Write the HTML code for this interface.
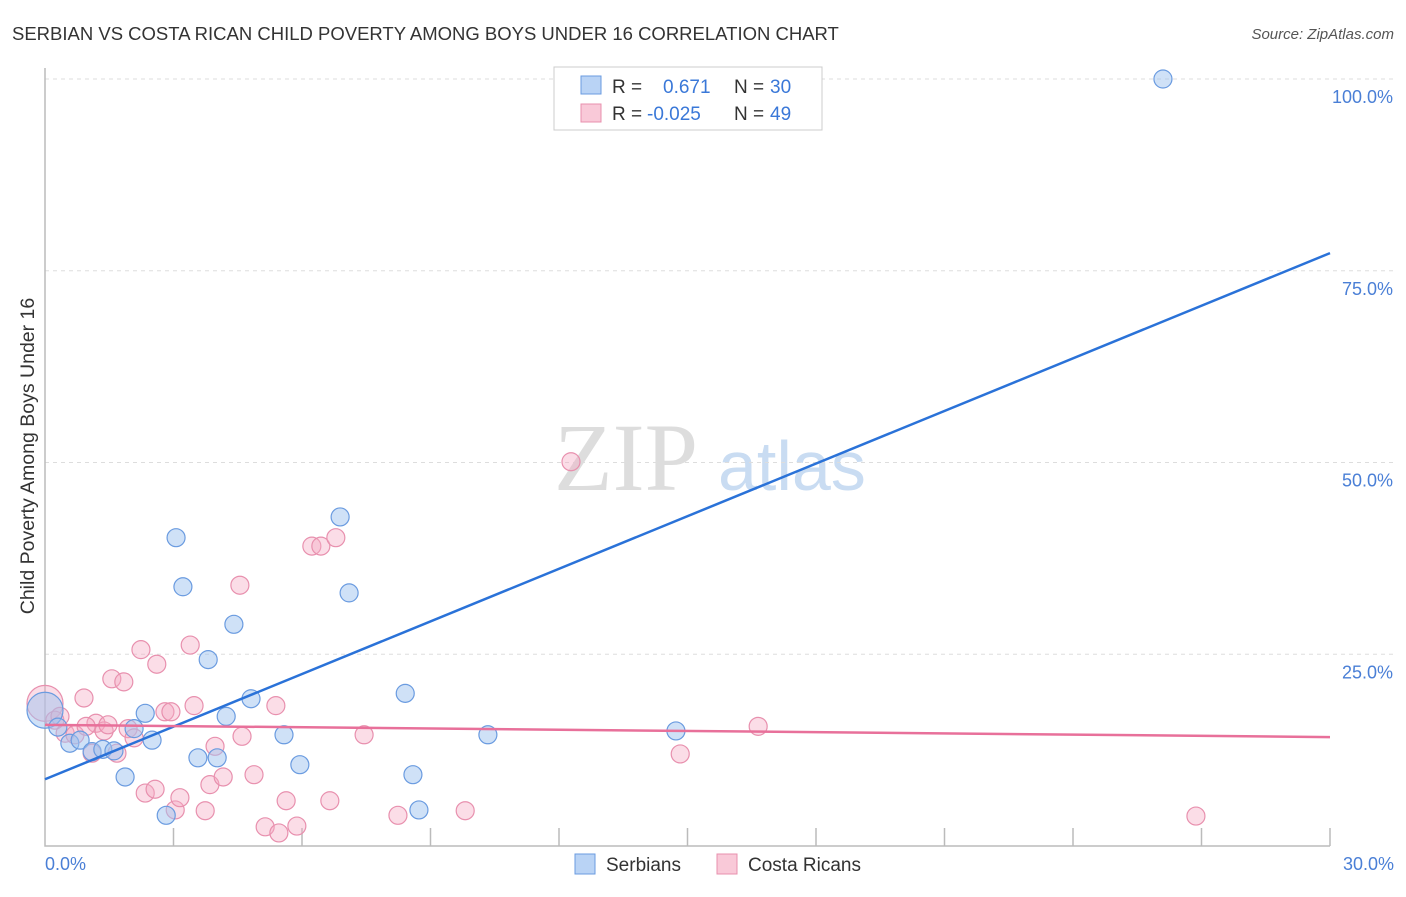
<!DOCTYPE html>
<html><head><meta charset="utf-8"><style>
body{margin:0;background:#fff;font-family:"Liberation Sans",sans-serif}
</style></head><body>
<svg id="chart" width="1406" height="892" viewBox="0 0 1406 892" xmlns="http://www.w3.org/2000/svg" font-family="Liberation Sans, sans-serif">
<text x="12" y="40" font-size="18.5" fill="#333">SERBIAN VS COSTA RICAN CHILD POVERTY AMONG BOYS UNDER 16 CORRELATION CHART</text>
<text x="1394" y="39" font-size="15" fill="#555" font-style="italic" text-anchor="end">Source: ZipAtlas.com</text>
<text x="554" y="490" font-size="96" fill="#ddd" style="font-family:'Liberation Serif',serif">ZIP</text>
<text x="718" y="490" font-size="70" fill="#c9dcf2">atlas</text>
<g id="grid"></g>
<g id="axes"></g>
<g id="points"></g>
<g id="lines"></g>
<text transform="translate(34,456) rotate(-90)" font-size="19.5" fill="#333" text-anchor="middle">Child Poverty Among Boys Under 16</text>
<text x="45" y="870" font-size="18" fill="#4a7fd6">0.0%</text>
<text x="1394" y="870" font-size="18" fill="#4a7fd6" text-anchor="end">30.0%</text>
<g>
<rect x="554" y="67" width="268" height="63" fill="#fff" stroke="#ccc"/>
<rect x="581" y="76" width="20" height="18" fill="#b9d3f5" stroke="#6a9be0"/>
<rect x="581" y="104" width="20" height="18" fill="#f9c9d8" stroke="#e890ae"/>
<text x="612" y="93" font-size="19" fill="#333">R = </text><text x="663" y="93" font-size="19" fill="#3a78d8">0.671</text>
<text x="734" y="93" font-size="19" fill="#333">N = </text><text x="770" y="93" font-size="19" fill="#3a78d8">30</text>
<text x="612" y="120" font-size="19" fill="#333">R = </text><text x="647" y="120" font-size="19" fill="#3a78d8">-0.025</text>
<text x="734" y="120" font-size="19" fill="#333">N = </text><text x="770" y="120" font-size="19" fill="#3a78d8">49</text>
</g>
<g><rect x="575" y="854" width="20" height="20" fill="#b9d3f5" stroke="#6a9be0"/><text x="606" y="871" font-size="19" fill="#333">Serbians</text></g>
<g><rect x="717" y="854" width="20" height="20" fill="#f9c9d8" stroke="#e890ae"/><text x="748" y="871" font-size="19" fill="#333">Costa Ricans</text></g>
</svg>
<script>
const serbX=[0,0.30,0.58,0.82,1.10,1.35,1.61,1.87,2.08,2.34,2.50,2.83,3.06,3.22,3.57,3.81,4.02,4.23,4.41,4.81,5.58,5.95,6.89,7.10,8.41,8.59,8.73,10.34,14.73,26.10];
const serbY=[17.7,15.5,13.4,13.8,12.3,12.6,12.4,9.0,15.3,17.3,13.8,4.0,40.2,33.8,11.5,24.3,11.5,16.9,28.9,19.2,14.5,10.6,42.9,33.0,19.9,9.3,4.7,14.5,15.0,100];
const costaX=[0,0.23,0.47,0.70,0.91,1.10,1.19,1.38,1.56,1.68,1.84,1.94,2.24,2.34,2.57,2.61,2.80,2.94,3.04,3.15,3.39,3.48,3.74,3.85,3.97,4.16,4.55,4.60,4.88,5.14,5.39,5.46,5.63,5.88,6.23,6.44,6.65,6.79,7.45,8.24,9.81,12.28,14.83,16.65,26.87,0.35,0.96,1.47,2.08];
const costaY=[18.6,16.4,14.7,14.5,19.3,12.1,16.0,15.0,21.8,12.1,21.4,15.3,25.6,6.9,7.4,23.7,17.5,17.5,4.7,6.3,26.2,18.3,4.6,8.0,13.0,9.0,34.0,14.3,9.3,2.5,18.3,1.7,5.9,2.6,39.1,39.1,5.9,40.2,14.5,4.0,4.6,50.1,12.0,15.6,3.9,16.9,15.6,15.8,14.1];
const serbTrend=[8.7,77.3];
const costaTrend=[15.8,14.2];
const yTicks=[25,50,75,100];
const yTickLabels=["25.0%","50.0%","75.0%","100.0%"];
const xTicks=[3,6,9,12,15,18,21,24,27,30];
const NS="http://www.w3.org/2000/svg";
const X=v=>45+v*(1285/30), Y=v=>846-v*7.67;
function mk(t,a,p){const e=document.createElementNS(NS,t);for(const k in a)e.setAttribute(k,a[k]);document.getElementById(p).appendChild(e);return e;}
yTicks.forEach((t,i)=>{
 const g=mk('line',{x1:45,x2:1394,y1:Y(t),y2:Y(t),stroke:'#ddd','stroke-dasharray':'4,4'},'grid');
 
 
 const l=mk('text',{x:1393,y:Y(t)+24,'font-size':18,fill:'#4a7fd6','text-anchor':'end'},'grid');
 l.textContent=yTickLabels[i];
 
 
});
const ax=mk('path',{d:'M45,68 V846 H1330',stroke:'#bbb',fill:'none','stroke-width':1.5},'axes');


xTicks.forEach(t=>{
 const k=mk('line',{x1:X(t),x2:X(t),y1:828,y2:846,stroke:'#bbb','stroke-width':1.5},'axes');
 
 
});
function pts(xs,ys,fill,stroke,name){
 xs.forEach((x,i)=>{
  const c=mk('circle',{cx:X(x),cy:Y(ys[i]),r:i===0?18:9,fill:fill,stroke:stroke,'stroke-width':1.2},'points');
  
  
 });
}
pts(costaX,costaY,'rgba(246,170,196,0.4)','#e890ae','costa-rican-point');
pts(serbX,serbY,'rgba(160,196,240,0.5)','#6a9be0','serbian-point');
const l1=mk('line',{x1:X(0),y1:Y(serbTrend[0]),x2:X(30),y2:Y(serbTrend[1]),stroke:'#2a72d8','stroke-width':2.5},'lines');


const l2=mk('line',{x1:X(0),y1:Y(costaTrend[0]),x2:X(30),y2:Y(costaTrend[1]),stroke:'#e8709a','stroke-width':2.5},'lines');


</script>
</body></html>
